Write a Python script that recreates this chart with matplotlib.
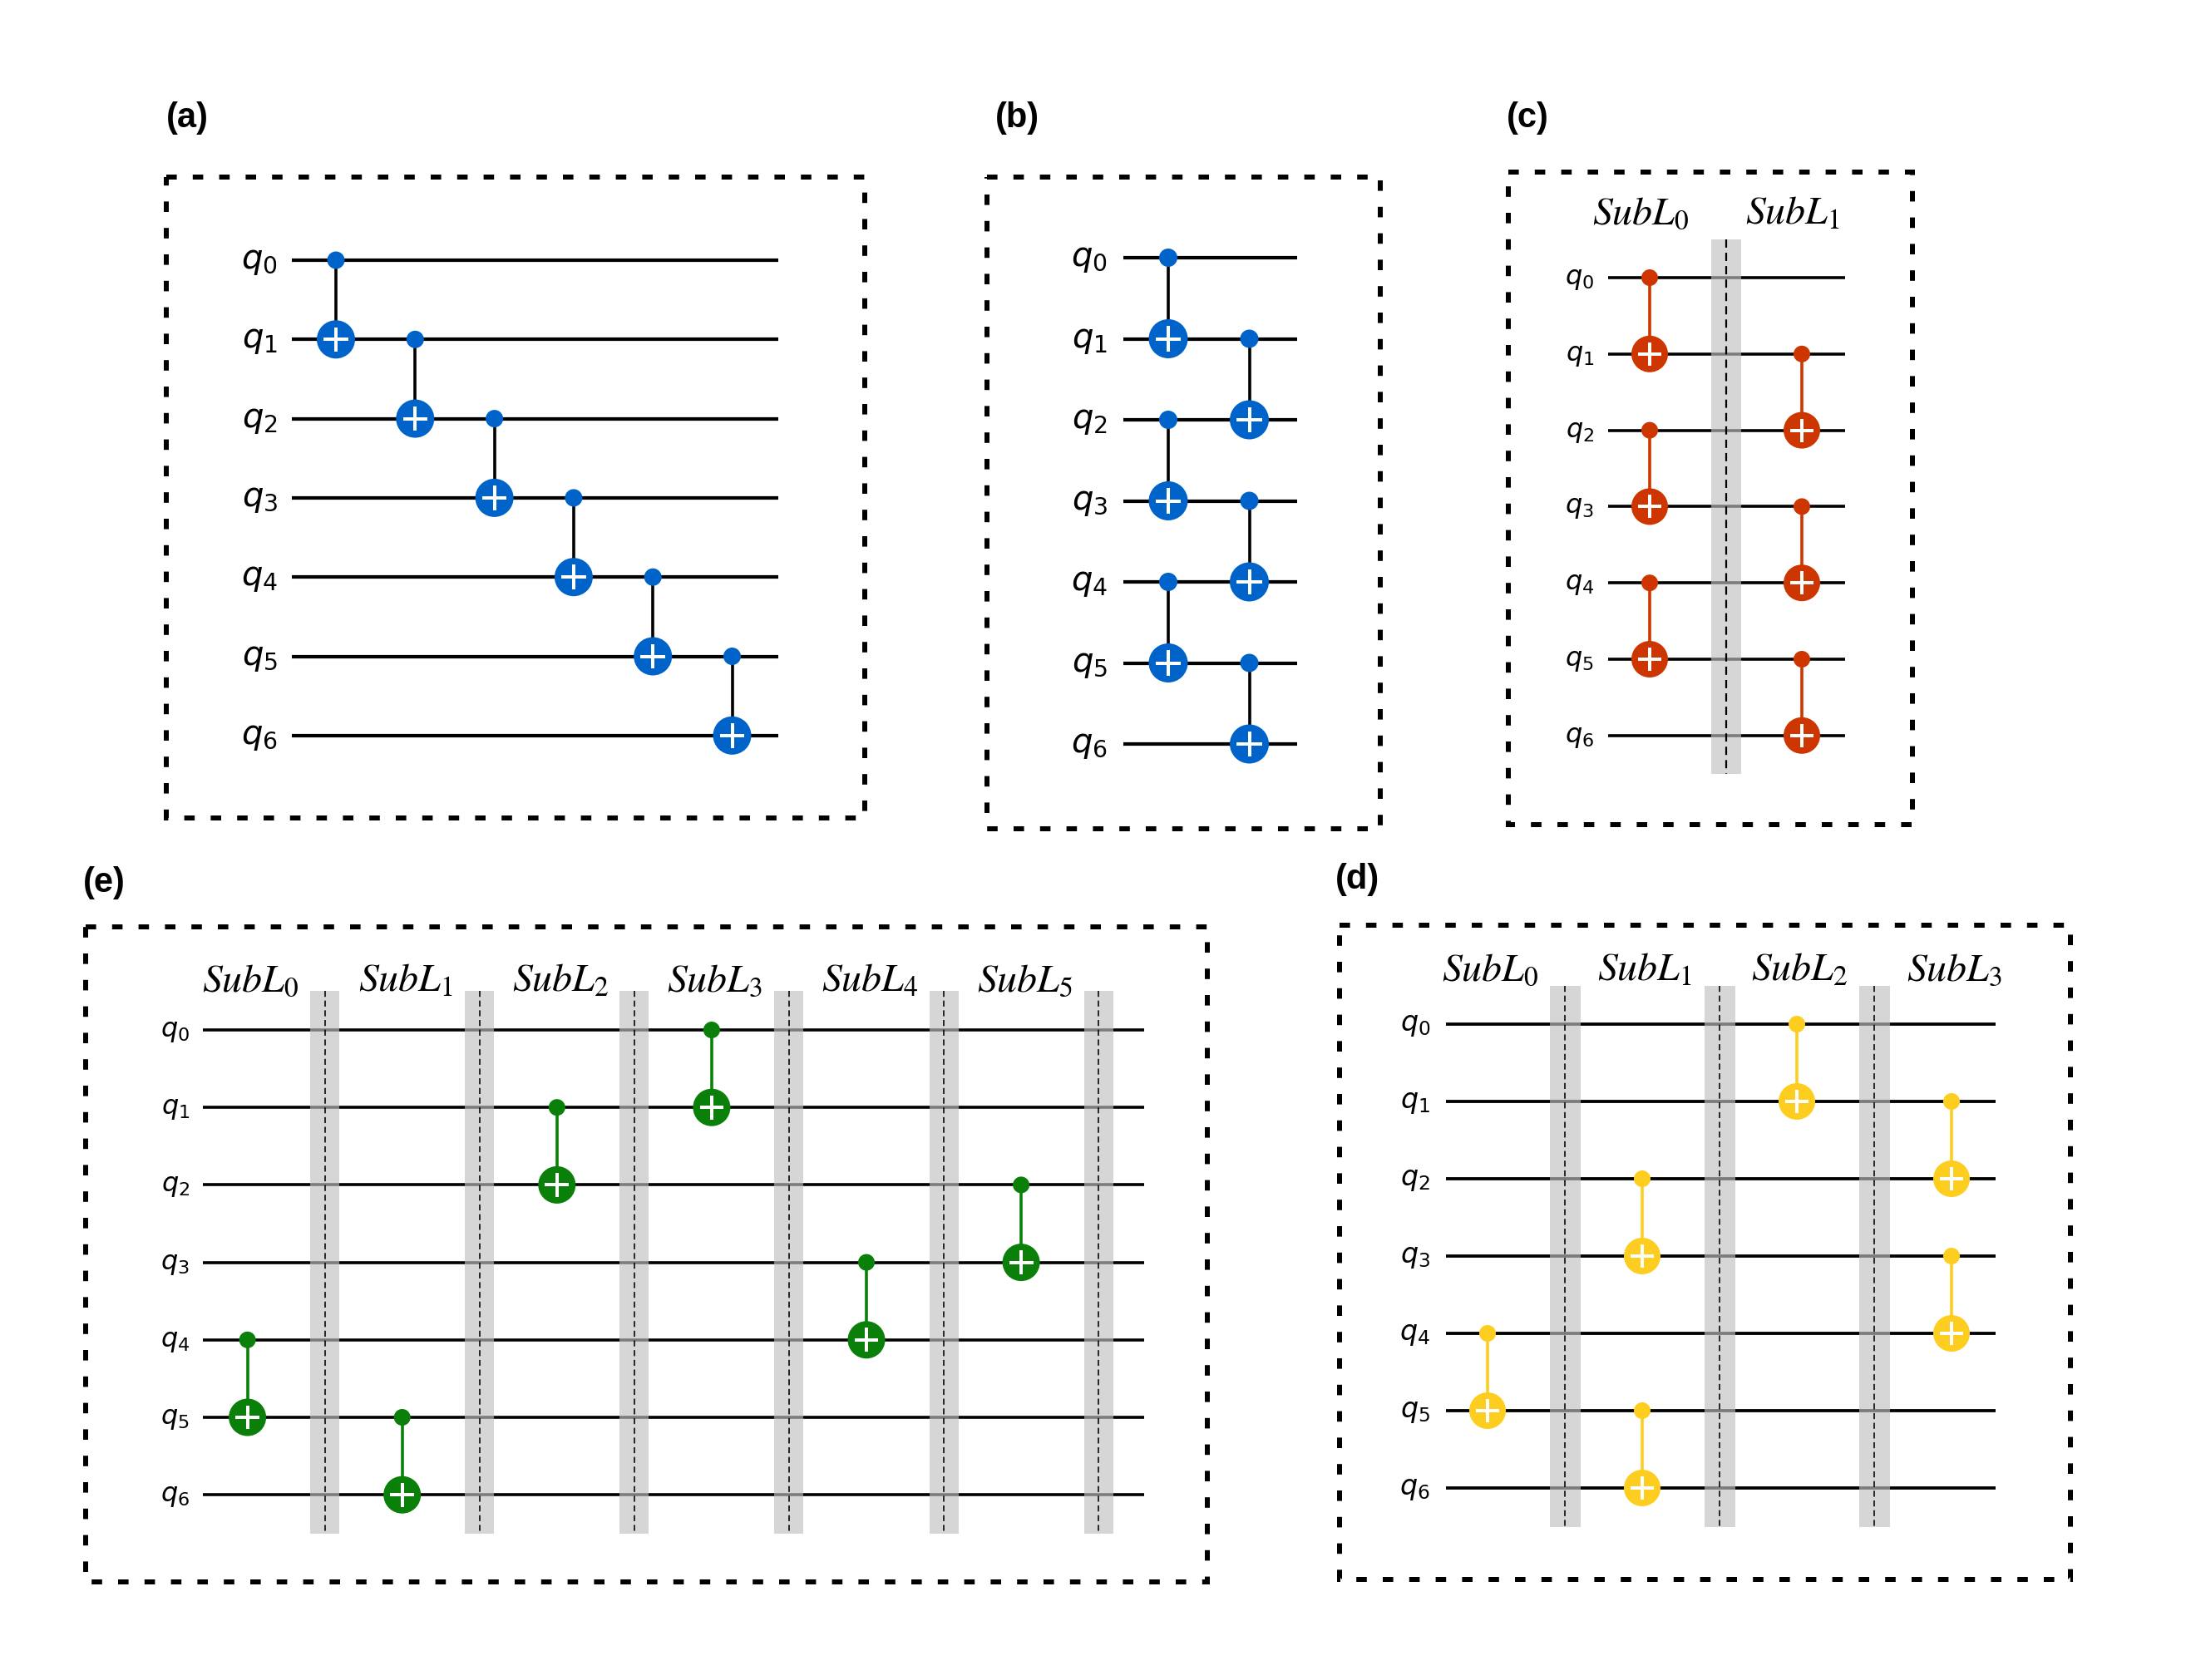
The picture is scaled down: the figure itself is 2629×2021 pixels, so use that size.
import matplotlib
matplotlib.use("Agg")
import matplotlib.pyplot as plt
from matplotlib.patches import Circle, Rectangle

W, H = 2629, 2021
PT = 72 / 100  # pixel -> point at dpi 100

# ---- circuit data ----
qubit_labels = ["$q_0$", "$q_1$", "$q_2$", "$q_3$", "$q_4$", "$q_5$", "$q_6$"]

# (control, target) pairs and the column each CNOT sits in
gates_a = [(0, 1), (1, 2), (2, 3), (3, 4), (4, 5), (5, 6)]
cols_a = [0, 1, 2, 3, 4, 5]

gates_b = [(0, 1), (2, 3), (4, 5), (1, 2), (3, 4), (5, 6)]
cols_b = [0, 0, 0, 1, 1, 1]

gates_c = [(0, 1), (2, 3), (4, 5), (1, 2), (3, 4), (5, 6)]
cols_c = [0, 0, 0, 1, 1, 1]
layers_c = ["$SubL_0$", "$SubL_1$"]
barriers_c = [0]

gates_d = [(4, 5), (2, 3), (5, 6), (0, 1), (1, 2), (3, 4)]
cols_d = [0, 1, 1, 2, 3, 3]
layers_d = ["$SubL_0$", "$SubL_1$", "$SubL_2$", "$SubL_3$"]
barriers_d = [0, 1, 2]

gates_e = [(4, 5), (5, 6), (1, 2), (0, 1), (3, 4), (2, 3)]
cols_e = [0, 1, 2, 3, 4, 5]
layers_e = ["$SubL_0$", "$SubL_1$", "$SubL_2$", "$SubL_3$", "$SubL_4$", "$SubL_5$"]
barriers_e = [0, 1, 2, 3, 4, 5]

# ---- layout (pixel coordinates of the figure) ----
panels = [
    dict(tag="(a)", tag_xy=(200, 142), box=(200, 213, 1040, 984),
         wx=(351, 936), y0=313, dy=95.3, c0=404, dc=95.3, lab_x=334, qfs=29,
         gates=gates_a, cols=cols_a, color="#0063CA", link="black",
         r=23, rd=10.5, wlw=4.2),
    dict(tag="(b)", tag_xy=(1197, 142), box=(1187, 213, 1660, 997),
         wx=(1351, 1560), y0=310, dy=97.5, c0=1405, dc=97.5, lab_x=1332, qfs=29,
         gates=gates_b, cols=cols_b, color="#0063CA", link="black",
         r=23.5, rd=11, wlw=4.2),
    dict(tag="(c)", tag_xy=(1812, 142), box=(1814, 207, 2300, 992),
         wx=(1934, 2219), y0=334, dy=91.8, c0=1984, dc=183, lab_x=1917, qfs=23,
         gates=gates_c, cols=cols_c, color="#CD3600", link="#CD3600",
         r=22, rd=10, wlw=3.6, layers=layers_c, layer_y=270, layer_dx=-11,
         barriers=barriers_c, bw=36, dash_lw=2.2),
    dict(tag="(d)", tag_xy=(1606, 1058), box=(1611, 1113, 2490, 1900),
         wx=(1739, 2400), y0=1232, dy=93, c0=1789, dc=186, lab_x=1720, qfs=24,
         gates=gates_d, cols=cols_d, color="#FDCE1F", link="#FDCE1F",
         r=22, rd=10, wlw=3.8, layers=layers_d, layer_y=1180, layer_dx=3,
         barriers=barriers_d, bw=37, dash_lw=1.6),
    dict(tag="(e)", tag_xy=(100, 1062), box=(103, 1115, 1452, 1903),
         wx=(244, 1376), y0=1239, dy=93.2, c0=297.6, dc=186.1, lab_x=228, qfs=23,
         gates=gates_e, cols=cols_e, color="#0A800A", link="#0A800A",
         r=22.5, rd=10, wlw=3.6, layers=layers_e, layer_y=1193, layer_dx=4,
         barriers=barriers_e, bw=35, dash_lw=1.6),
]

fig = plt.figure(figsize=(W / 100, H / 100), dpi=100)
ax = fig.add_axes([0, 0, 1, 1])
ax.set_xlim(0, W)
ax.set_ylim(H, 0)
ax.axis("off")

for p in panels:
    # panel tag
    ax.text(p["tag_xy"][0], p["tag_xy"][1], p["tag"], fontsize=30, fontweight="bold",
            family="Liberation Sans", ha="left", va="center")

    # dotted frame
    x0, y0b, x1, y1b = p["box"]
    ax.add_patch(Rectangle((x0, y0b), x1 - x0, y1b - y0b, fill=False, ec="black",
                           lw=6 * PT, ls=(0, (2.1, 3.2)), zorder=1))

    ys = [p["y0"] + i * p["dy"] for i in range(len(qubit_labels))]
    em = p["qfs"] / PT
    for y, lab in zip(ys, qubit_labels):
        ax.plot(p["wx"], [y, y], color="black", lw=p["wlw"] * PT,
                solid_capstyle="butt", zorder=2)
        ax.text(p["lab_x"], y + 0.25 * em, lab, fontsize=p["qfs"], ha="right",
                va="baseline")

    # barriers
    for b in p.get("barriers", []):
        bx = p["c0"] + (b + 0.5) * p["dc"]
        ya, yb = ys[0] - 0.5 * p["dy"], ys[-1] + 0.5 * p["dy"]
        ax.add_patch(Rectangle((bx - p["bw"] / 2, ya), p["bw"], yb - ya,
                               color="#c0c0c0", alpha=0.65, lw=0, zorder=3))
        ax.plot([bx, bx], [ya, yb], color="black", lw=p["dash_lw"] * PT,
                ls=(0, (4.5, 2.8)), zorder=4)

    # layer names
    for k, name in enumerate(p.get("layers", [])):
        ax.text(p["c0"] + k * p["dc"] + p["layer_dx"], p["layer_y"], name,
                fontsize=34.5, math_fontfamily="stix", ha="center", va="baseline")

    # CNOT gates
    for (c, t), col in zip(p["gates"], p["cols"]):
        gx = p["c0"] + col * p["dc"]
        ax.plot([gx, gx], [ys[c], ys[t]], color=p["link"], lw=3.6 * PT, zorder=5)
        ax.add_patch(Circle((gx, ys[c]), p["rd"], color=p["color"], lw=0, zorder=6))
        ax.add_patch(Circle((gx, ys[t]), p["r"], color=p["color"], lw=0, zorder=6))
        arm = 0.64 * p["r"]
        ax.plot([gx - arm, gx + arm], [ys[t], ys[t]], color="white", lw=4 * PT,
                solid_capstyle="butt", zorder=7)
        ax.plot([gx, gx], [ys[t] - arm, ys[t] + arm], color="white", lw=4 * PT,
                solid_capstyle="butt", zorder=7)

fig.savefig("out.png", dpi=100, facecolor="white")
